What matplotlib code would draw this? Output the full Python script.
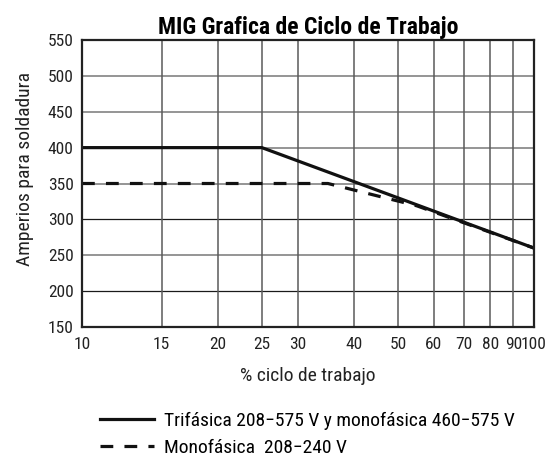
import matplotlib
matplotlib.use("Agg")
import matplotlib.pyplot as plt
from matplotlib.ticker import FixedLocator, NullLocator, FixedFormatter

plt.rcParams['font.family'] = ['Roboto Condensed', 'DejaVu Sans']

# Data
solid_x = [10, 25, 100]
solid_y = [400, 400, 260]
dashed_x = [10, 35, 55, 100]
dashed_y = [350, 350, 319, 260]
x_ticks = [10, 15, 20, 25, 30, 40, 50, 60, 70, 80, 90, 100]
x_tick_labels = [str(v) for v in x_ticks]
y_ticks = [150, 200, 250, 300, 350, 400, 450, 500, 550]
dark_rows = [200, 300]
label_solid = "Trifásica 208\u2212575 V y monofásica 460\u2212575 V"
label_dashed = "Monofásica  208\u2212240 V"

fig = plt.figure(figsize=(5.55, 4.59), dpi=100)
ax = fig.add_axes([82/555, 1-327/459, (534-82)/555, (327-40)/459])
ax.set_xscale('log')
ax.set_xlim(10, 100)
ax.set_ylim(150, 550)
ax.xaxis.set_major_locator(FixedLocator(x_ticks))
ax.xaxis.set_major_formatter(FixedFormatter(x_tick_labels))
ax.xaxis.set_minor_locator(NullLocator())
ax.set_yticks(y_ticks)
ax.grid(True, axis='x', color='#5a5a5a', linewidth=1.1)
for yv in y_ticks[1:-1]:
    if yv in dark_rows:
        ax.axhline(yv, color='#1a1a1a', linewidth=0.9, zorder=0.5)
    else:
        ax.axhline(yv, color='#8c8c8c', linewidth=1.3, zorder=0.5)
ax.set_axisbelow(True)
for s in ax.spines.values():
    s.set_linewidth(1.6)
    s.set_color('#222222')
ax.tick_params(length=0, labelsize=12.5, colors='#222222')
ax.tick_params(axis='x', pad=7)
ax.tick_params(axis='y', pad=6)

l1, = ax.plot(solid_x, solid_y, color='#111111', linewidth=2.3, label=label_solid)
l2, = ax.plot(dashed_x, dashed_y, color='#111111', linewidth=2.3, linestyle=(0, (4, 3.5)), label=label_dashed)

ax.set_title("MIG Grafica de Ciclo de Trabajo", fontsize=17, fontweight='bold', pad=4)
ax.set_xlabel("% ciclo de trabajo", fontsize=14, labelpad=11, color='#222222')
ax.set_ylabel("Amperios para soldadura", fontsize=14, color='#222222', va='center')
ax.yaxis.set_label_coords((25 - 82) / 452, (327 - 169) / 287)

fig.legend(handles=[l1, l2], loc='upper left', bbox_to_anchor=(92/555, 1-404/459),
           frameon=False, fontsize=14, handlelength=2.8, handletextpad=0.5,
           labelspacing=0.45, borderaxespad=0)

fig.savefig("out.png", dpi=100)
